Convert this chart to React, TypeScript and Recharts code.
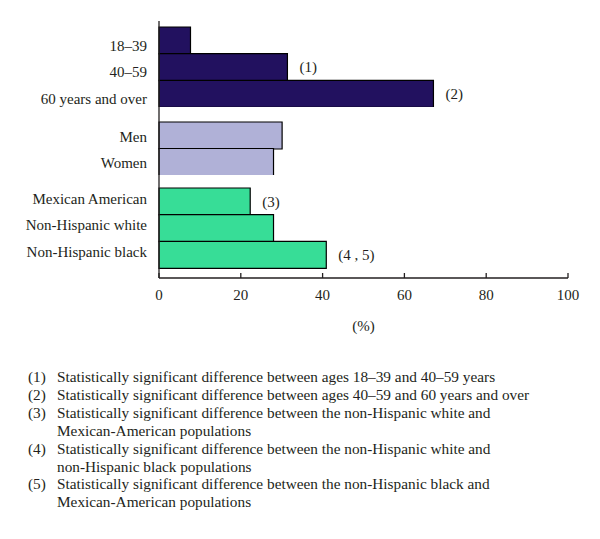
import React from 'react';
import { BarChart, Bar, XAxis, YAxis, LabelList } from 'recharts';

const ageCategories = ['18–39', '40–59', '60 years and over'];
const ageValues = [7.7, 31.4, 67.1];
const ageNotes = ['', '(1)', '(2)'];

const sexCategories = ['Men', 'Women'];
const sexValues = [30.1, 28.0];
const sexNotes = ['', ''];

const raceCategories = ['Mexican American', 'Non-Hispanic white', 'Non-Hispanic black'];
const raceValues = [22.3, 28.0, 40.9];
const raceNotes = ['(3)', '', '(4 , 5)'];

const xTicks = [0, 20, 40, 60, 80, 100];
const xLabel = '(%)';

const footnoteNumbers = ['(1)', '(2)', '(3)', '(4)', '(5)'];
const footnoteLines = [
  ['Statistically significant difference between ages 18–39 and 40–59 years'],
  ['Statistically significant difference between ages 40–59 and 60 years and over'],
  ['Statistically significant difference between the non-Hispanic white and', 'Mexican-American populations'],
  ['Statistically significant difference between the non-Hispanic white and', 'non-Hispanic black populations'],
  ['Statistically significant difference between the non-Hispanic black and', 'Mexican-American populations'],
];

const FONT = '"Liberation Serif", "DejaVu Serif", serif';
const TEXT = '#231f20';
const NAVY = '#22115f';
const LAVENDER = '#b0b1d7';
const GREEN = '#37dd97';

const build = (cats: string[], vals: number[], notes: string[]) =>
  cats.map((name, i) => ({ name, value: vals[i], note: notes[i] }));

const ageData = build(ageCategories, ageValues, ageNotes);
const sexData = build(sexCategories, sexValues, sexNotes);
const raceData = build(raceCategories, raceValues, raceNotes);

const XTick = (props: any) => {
  const { x, y, payload } = props;
  const axisY = y - 8;
  return (
    <g>
      <line x1={x} x2={x} y1={axisY} y2={axisY - 5} stroke={TEXT} strokeWidth={1.3} />
      <text x={x} y={axisY + 21.5} textAnchor="middle" fontFamily={FONT} fontSize={15} fill={TEXT}>
        {payload.value}
      </text>
    </g>
  );
};

type GroupProps = {
  data: any[];
  color: string;
  top: number;
  height: number;
  padTop: number;
  padBottom: number;
  labelDy: number;
  showX?: boolean;
  bottomMargin?: number;
};

const Group = ({ data, color, top, height, padTop, padBottom, labelDy, showX, bottomMargin = 0 }: GroupProps) => (
  <div style={{ position: 'absolute', left: 0, top }}>
    <BarChart
      width={600}
      height={height}
      data={data}
      layout="vertical"
      margin={{ top: 0, right: 32, bottom: bottomMargin, left: 0 }}
      barCategoryGap={0}
    >
      <XAxis
        type="number"
        domain={[0, 100]}
        ticks={xTicks}
        hide={!showX}
        height={53}
        axisLine={{ stroke: TEXT, strokeWidth: 1.3 }}
        tickLine={false}
        tickSize={6}
        tickMargin={2}
        tick={<XTick />}
        label={showX ? { value: xLabel, position: 'insideBottom', offset: 0, fontFamily: FONT, fontSize: 15, fill: TEXT } : undefined}
      />
      <YAxis
        type="category"
        dataKey="name"
        width={159}
        padding={{ top: padTop, bottom: padBottom }}
        axisLine={{ stroke: TEXT, strokeWidth: 1.3 }}
        tickLine={false}
        tickMargin={6}
        interval={0}
        tick={{ fontFamily: FONT, fontSize: 15, fill: TEXT, dy: labelDy }}
      />
      <Bar dataKey="value" fill={color} stroke="#000" strokeWidth={1.2} isAnimationActive={false}>
        <LabelList dataKey="note" position="right" offset={12} fontFamily={FONT} fontSize={15} fill={TEXT} />
      </Bar>
    </BarChart>
  </div>
);

export default function App() {
  return (
    <div style={{ position: 'absolute', left: 0, top: 0, width: 600, height: 539, background: '#fff', fontFamily: FONT, color: TEXT }}>
      <Group data={ageData} color={NAVY} top={21} height={86} padTop={6} padBottom={0} labelDy={5} />
      <Group data={sexData} color={LAVENDER} top={107} height={68} padTop={15} padBottom={0} labelDy={1} />
      <Group data={raceData} color={GREEN} top={175} height={166} padTop={13} padBottom={10} labelDy={-3} showX bottomMargin={10} />
      <div style={{ position: 'absolute', left: 28, top: 368, fontSize: 15.3, lineHeight: '17.9px' }}>
        {footnoteNumbers.map((num, i) => (
          <div key={num} style={{ display: 'flex' }}>
            <div style={{ width: 29, flexShrink: 0 }}>{num}</div>
            <div>
              {footnoteLines[i].map((line) => (
                <div key={line} style={{ whiteSpace: 'nowrap' }}>{line}</div>
              ))}
            </div>
          </div>
        ))}
      </div>
    </div>
  );
}
